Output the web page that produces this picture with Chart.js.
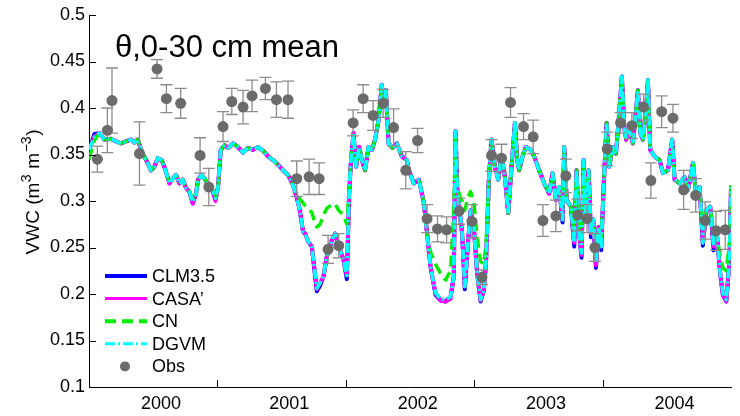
<!DOCTYPE html>
<html><head><meta charset="utf-8">
<script src="https://cdn.jsdelivr.net/npm/chart.js@4"></script>
<style>html,body{margin:0;padding:0;background:#fff;}canvas{display:block;}</style>
</head><body>
<canvas id="c" width="740" height="416"></canvas>
<script>
const dates = [
1999.440,1999.482,1999.521,1999.560,1999.611,1999.650,1999.689,1999.728,1999.767,1999.794,
1999.819,1999.858,1999.897,1999.923,1999.950,1999.975,2000.006,2000.032,2000.066,2000.092,
2000.118,2000.144,2000.170,2000.196,2000.222,2000.248,2000.274,2000.289,2000.316,2000.341,
2000.367,2000.394,2000.425,2000.445,2000.466,2000.497,2000.523,2000.562,2000.601,2000.640,
2000.679,2000.718,2000.757,2000.796,2000.835,2000.874,2000.913,2000.952,2000.990,2001.029,
2001.056,2001.082,2001.107,2001.123,2001.149,2001.175,2001.201,2001.214,2001.240,2001.266,
2001.292,2001.331,2001.357,2001.383,2001.422,2001.448,2001.466,2001.481,2001.500,2001.520,
2001.544,2001.565,2001.590,2001.617,2001.643,2001.668,2001.695,2001.720,2001.742,2001.752,
2001.773,2001.804,2001.837,2001.876,2001.915,2001.931,2001.970,2002.009,2002.048,2002.073,
2002.100,2002.139,2002.178,2002.217,2002.256,2002.281,2002.295,2002.307,2002.326,2002.346,
2002.367,2002.393,2002.412,2002.437,2002.463,2002.490,2002.515,2002.533,2002.554,2002.575,
2002.601,2002.627,2002.653,2002.679,2002.705,2002.731,2002.757,2002.775,2002.790,2002.817,
2002.842,2002.881,2002.907,2002.946,2002.985,2003.024,2003.050,2003.076,2003.102,2003.128,
2003.141,2003.160,2003.193,2003.219,2003.237,2003.258,2003.276,2003.292,2003.310,2003.331,
2003.349,2003.367,2003.388,2003.409,2003.429,2003.448,2003.471,2003.491,2003.518,2003.544,
2003.569,2003.590,2003.608,2003.624,2003.650,2003.676,2003.715,2003.733,2003.754,2003.780,
2003.793,2003.811,2003.845,2003.884,2003.910,2003.949,2003.982,2004.001,2004.040,2004.079,
2004.105,2004.144,2004.169,2004.196,2004.221,2004.247,2004.278,2004.305,2004.331,2004.356,
2004.377,2004.403,2004.429,2004.440];

const clm35 = [
0.355,0.372,0.373,0.366,0.367,0.364,0.362,0.364,0.366,0.363,
0.366,0.351,0.341,0.333,0.337,0.346,0.344,0.335,0.319,0.324,
0.328,0.319,0.323,0.314,0.310,0.298,0.308,0.323,0.328,0.324,
0.317,0.314,0.303,0.315,0.355,0.360,0.357,0.362,0.358,0.352,
0.357,0.355,0.358,0.354,0.348,0.344,0.339,0.333,0.328,0.317,
0.305,0.290,0.267,0.265,0.256,0.251,0.219,0.203,0.209,0.219,
0.240,0.258,0.265,0.251,0.237,0.216,0.308,0.344,0.373,0.337,
0.358,0.344,0.333,0.358,0.355,0.366,0.387,0.425,0.401,0.419,
0.362,0.357,0.362,0.348,0.344,0.333,0.319,0.323,0.298,0.265,
0.229,0.199,0.193,0.192,0.197,0.219,0.375,0.315,0.290,0.265,
0.205,0.258,0.290,0.272,0.222,0.192,0.204,0.237,0.323,0.366,
0.337,0.323,0.348,0.326,0.287,0.337,0.384,0.344,0.333,0.348,
0.358,0.355,0.348,0.333,0.319,0.308,0.330,0.301,0.315,0.277,
0.358,0.301,0.294,0.251,0.333,0.265,0.239,0.344,0.283,0.333,
0.261,0.280,0.228,0.272,0.247,0.315,0.384,0.337,0.358,0.351,
0.394,0.434,0.380,0.366,0.376,0.362,0.419,0.373,0.366,0.401,
0.430,0.355,0.348,0.344,0.330,0.333,0.366,0.323,0.319,0.326,
0.312,0.341,0.305,0.315,0.252,0.290,0.294,0.247,0.262,0.222,
0.199,0.192,0.237,0.315];

const casa = [
0.355,0.369,0.373,0.366,0.367,0.364,0.362,0.364,0.366,0.363,
0.366,0.351,0.341,0.333,0.337,0.346,0.344,0.335,0.319,0.324,
0.328,0.319,0.323,0.314,0.310,0.297,0.308,0.323,0.328,0.324,
0.317,0.314,0.300,0.315,0.355,0.360,0.357,0.362,0.358,0.352,
0.357,0.355,0.358,0.354,0.348,0.344,0.339,0.333,0.328,0.317,
0.305,0.290,0.267,0.265,0.256,0.251,0.222,0.205,0.212,0.219,
0.240,0.258,0.265,0.251,0.237,0.220,0.308,0.344,0.373,0.337,
0.358,0.344,0.333,0.358,0.355,0.366,0.387,0.425,0.401,0.419,
0.362,0.357,0.362,0.348,0.344,0.333,0.319,0.323,0.298,0.265,
0.229,0.201,0.193,0.192,0.195,0.219,0.375,0.315,0.290,0.265,
0.208,0.258,0.290,0.272,0.222,0.193,0.204,0.237,0.323,0.366,
0.337,0.323,0.348,0.326,0.287,0.337,0.384,0.344,0.333,0.348,
0.358,0.355,0.348,0.333,0.319,0.308,0.330,0.301,0.315,0.280,
0.358,0.301,0.294,0.255,0.333,0.265,0.242,0.344,0.283,0.333,
0.265,0.280,0.231,0.272,0.251,0.315,0.384,0.337,0.358,0.351,
0.394,0.434,0.380,0.366,0.376,0.362,0.419,0.373,0.366,0.401,
0.430,0.355,0.348,0.344,0.330,0.333,0.366,0.323,0.319,0.326,
0.312,0.341,0.305,0.315,0.255,0.290,0.294,0.251,0.262,0.222,
0.199,0.192,0.237,0.315];

const cn = [
0.345,0.365,0.373,0.366,0.367,0.364,0.362,0.364,0.366,0.363,
0.366,0.351,0.341,0.333,0.337,0.346,0.344,0.335,0.319,0.324,
0.328,0.319,0.323,0.314,0.310,0.303,0.308,0.323,0.328,0.324,
0.317,0.314,0.306,0.315,0.355,0.360,0.357,0.362,0.358,0.352,
0.357,0.355,0.358,0.354,0.348,0.344,0.339,0.333,0.328,0.317,
0.308,0.302,0.298,0.295,0.291,0.288,0.276,0.272,0.275,0.285,
0.292,0.296,0.297,0.290,0.285,0.275,0.310,0.344,0.373,0.337,
0.358,0.344,0.333,0.358,0.355,0.366,0.387,0.425,0.401,0.419,
0.362,0.357,0.362,0.348,0.344,0.333,0.319,0.323,0.298,0.262,
0.245,0.232,0.222,0.215,0.225,0.290,0.370,0.320,0.305,0.300,
0.290,0.305,0.310,0.300,0.260,0.235,0.232,0.255,0.323,0.366,
0.337,0.323,0.348,0.326,0.287,0.337,0.384,0.344,0.333,0.348,
0.358,0.355,0.348,0.333,0.319,0.308,0.330,0.301,0.315,0.290,
0.358,0.301,0.294,0.268,0.333,0.275,0.258,0.344,0.292,0.333,
0.275,0.280,0.245,0.272,0.262,0.315,0.384,0.337,0.358,0.351,
0.394,0.434,0.380,0.366,0.376,0.362,0.419,0.373,0.366,0.401,
0.430,0.355,0.348,0.344,0.330,0.333,0.366,0.323,0.319,0.326,
0.312,0.341,0.305,0.315,0.270,0.290,0.294,0.265,0.262,0.240,
0.228,0.225,0.255,0.320];

const dgvm = [
0.355,0.369,0.373,0.366,0.367,0.364,0.362,0.364,0.366,0.363,
0.366,0.351,0.341,0.333,0.337,0.346,0.344,0.335,0.319,0.324,
0.328,0.319,0.323,0.314,0.310,0.299,0.308,0.323,0.328,0.324,
0.317,0.314,0.303,0.315,0.355,0.360,0.357,0.362,0.358,0.352,
0.357,0.355,0.358,0.354,0.348,0.344,0.339,0.333,0.328,0.317,
0.305,0.290,0.267,0.265,0.256,0.251,0.222,0.206,0.212,0.219,
0.240,0.258,0.265,0.251,0.237,0.220,0.308,0.344,0.373,0.337,
0.358,0.344,0.333,0.358,0.355,0.366,0.387,0.425,0.401,0.419,
0.362,0.357,0.362,0.348,0.344,0.333,0.319,0.323,0.298,0.265,
0.229,0.201,0.195,0.194,0.197,0.219,0.375,0.315,0.290,0.265,
0.208,0.258,0.290,0.272,0.222,0.194,0.204,0.237,0.323,0.366,
0.337,0.323,0.348,0.326,0.287,0.337,0.384,0.344,0.333,0.348,
0.358,0.355,0.348,0.333,0.319,0.308,0.330,0.301,0.315,0.280,
0.358,0.301,0.294,0.255,0.333,0.265,0.244,0.344,0.283,0.333,
0.265,0.280,0.233,0.272,0.251,0.315,0.384,0.337,0.358,0.351,
0.394,0.434,0.380,0.366,0.376,0.362,0.419,0.373,0.366,0.401,
0.430,0.355,0.348,0.344,0.330,0.333,0.366,0.323,0.319,0.326,
0.312,0.341,0.305,0.315,0.255,0.290,0.294,0.251,0.262,0.222,
0.201,0.194,0.237,0.315];

const obsDates = [1999.505,1999.583,1999.619,1999.833,1999.970,2000.043,2000.154,2000.305,2000.373,2000.484,
2000.552,2000.640,2000.710,2000.814,2000.900,2000.990,2001.058,2001.154,2001.232,2001.302,
2001.385,2001.497,2001.575,2001.653,2001.731,2001.812,2001.907,2001.999,2002.073,2002.154,
2002.225,2002.323,2002.422,2002.500,2002.575,2002.653,2002.723,2002.824,2002.899,2002.975,
2003.076,2003.154,2003.245,2003.318,2003.380,2003.476,2003.580,2003.668,2003.759,2003.816,
2003.900,2003.988,2004.071,2004.165,2004.239,2004.323,2004.395];
const obsVals = [0.345,0.376,0.408,0.351,0.442,0.410,0.405,0.349,0.315,0.380,
0.407,0.401,0.413,0.421,0.409,0.409,0.324,0.326,0.324,0.248,
0.252,0.384,0.410,0.392,0.405,0.379,0.333,0.365,0.281,0.270,
0.269,0.289,0.278,0.218,0.349,0.346,0.406,0.380,0.369,0.279,
0.284,0.327,0.285,0.281,0.250,0.356,0.384,0.381,0.401,0.322,
0.396,0.389,0.312,0.306,0.279,0.268,0.269];
const obsErr = [0.014,0.024,0.035,0.034,0.010,0.015,0.016,0.019,0.020,0.016,
0.014,0.018,0.017,0.012,0.019,0.020,0.019,0.019,0.017,0.015,
0.013,0.014,0.015,0.016,0.015,0.020,0.020,0.013,0.015,0.014,
0.014,0.014,0.018,0.008,0.017,0.015,0.016,0.014,0.018,0.017,
0.017,0.018,0.017,0.015,0.015,0.018,0.011,0.014,0.014,0.019,
0.017,0.015,0.021,0.018,0.020,0.021,0.021];

const yearLabels = [2000, 2001, 2002, 2003, 2004];
const yearBoundaries = [2000.44, 2001.44, 2002.44, 2003.44];
const xMin = 1999.44, xMax = 2004.44;
const titleText = 'θ,0-30 cm mean';
// y-axis title pieces: [text, isSuperscript]
const yTitleParts = [['VWC (m', false], ['3', true], [' m', false], ['\u22123', true], [')', false]];

const FONT = "'Liberation Sans', Arial, Helvetica, sans-serif";
const pts = arr => dates.map((d, i) => ({x: d, y: arr[i]}));

const errorBars = {
  id: 'errorBars',
  beforeDatasetDraw(chart, args) {
    if (args.index !== 4) return;
    const {ctx, scales: {x, y}} = chart;
    ctx.save();
    ctx.strokeStyle = '#8c8c8c';
    ctx.lineWidth = 1.3;
    obsDates.forEach((d, i) => {
      const px = x.getPixelForValue(d);
      const y1 = y.getPixelForValue(obsVals[i] + obsErr[i]);
      const y2 = y.getPixelForValue(obsVals[i] - obsErr[i]);
      ctx.beginPath();
      ctx.moveTo(px, y1); ctx.lineTo(px, y2);
      ctx.moveTo(px - 6, y1); ctx.lineTo(px + 6, y1);
      ctx.moveTo(px - 6, y2); ctx.lineTo(px + 6, y2);
      ctx.stroke();
    });
    ctx.restore();
  }
};

const decor = {
  id: 'decor',
  afterDraw(chart) {
    const {ctx, chartArea: a, scales: {x, y}} = chart;
    ctx.save();
    // inward tick marks
    ctx.strokeStyle = '#000';
    ctx.lineWidth = 1;
    ctx.beginPath();
    yearBoundaries.forEach(v => {
      const px = Math.round(x.getPixelForValue(v)) + 0.5;
      ctx.moveTo(px, a.bottom); ctx.lineTo(px, a.bottom - 7);
    });
    y.ticks.forEach(t => {
      const py = Math.round(y.getPixelForValue(t.value)) + 0.5;
      ctx.moveTo(a.left, py); ctx.lineTo(a.left + 7, py);
    });
    ctx.stroke();
    // title
    ctx.fillStyle = '#000';
    ctx.font = '31px ' + FONT;
    ctx.textBaseline = 'alphabetic';
    ctx.textAlign = 'left';
    ctx.fillText(titleText, a.left + 26, a.top + 42);
    // y-axis title with superscripts, rotated
    const mainF = '19px ' + FONT, supF = '14px ' + FONT;
    let total = 0;
    yTitleParts.forEach(([t, sup]) => { ctx.font = sup ? supF : mainF; total += ctx.measureText(t).width + (sup ? 1 : 0); });
    ctx.save();
    ctx.translate(39, 192);
    ctx.rotate(-Math.PI / 2);
    let cx = -total / 2;
    yTitleParts.forEach(([t, sup]) => {
      ctx.font = sup ? supF : mainF;
      ctx.fillText(t, cx + (sup ? 0.5 : 0), sup ? -8 : 0);
      cx += ctx.measureText(t).width + (sup ? 1 : 0);
    });
    ctx.restore();
    // legend
    const ds = chart.data.datasets;
    ctx.font = '18px ' + FONT;
    ctx.textBaseline = 'middle';
    ds.forEach((d, i) => {
      const ry = a.top + 261 + i * 22.6;
      const x0 = a.left + 16, x1 = a.left + 58;
      if (d.showLine === false) {
        ctx.fillStyle = d.backgroundColor;
        ctx.beginPath();
        ctx.arc((x0 + x1) / 2 - 1, ry, 5, 0, Math.PI * 2);
        ctx.fill();
      } else {
        ctx.strokeStyle = d.borderColor;
        ctx.lineWidth = d.legendWidth;
        ctx.setLineDash(d.borderDash || []);
        ctx.beginPath();
        ctx.moveTo(x0, ry); ctx.lineTo(x1, ry);
        ctx.stroke();
        ctx.setLineDash([]);
      }
      ctx.fillStyle = '#000';
      ctx.fillText(d.label, a.left + 63, ry + 1);
    });
    ctx.restore();
  }
};

new Chart(document.getElementById('c'), {
  type: 'line',
  data: {
    datasets: [
      {label: 'CLM3.5', data: pts(clm35), borderColor: '#0000ff', borderWidth: 4, legendWidth: 4, order: 4},
      {label: 'CASA\u2019', data: pts(casa), borderColor: '#ff00ff', borderWidth: 4, legendWidth: 3, order: 3},
      {label: 'CN', data: pts(cn), borderColor: '#00ee00', borderWidth: 3.5, borderDash: [11, 6], legendWidth: 4, order: 2},
      {label: 'DGVM', data: pts(dgvm), borderColor: '#00ffff', borderWidth: 3.6, borderDash: [10, 3, 2, 3], legendWidth: 3, order: 1},
      {label: 'Obs', type: 'scatter', showLine: false, data: obsDates.map((d, i) => ({x: d, y: obsVals[i]})),
       backgroundColor: '#6b6b6b', borderColor: '#6b6b6b', pointRadius: 5.5, borderWidth: 0, order: 0}
    ]
  },
  options: {
    responsive: false,
    animation: false,
    devicePixelRatio: 1,
    elements: {line: {tension: 0, borderJoinStyle: 'round', fill: false}, point: {radius: 0, hoverRadius: 0}},
    layout: {padding: {top: 15, right: 9, left: 0, bottom: 0}},
    plugins: {legend: {display: false}, tooltip: {enabled: false}, title: {display: false}},
    scales: {
      x: {
        type: 'linear', min: xMin, max: xMax,
        afterBuildTicks: s => { s.ticks = yearLabels.map(v => ({value: v})); },
        afterFit: s => { s.height = 29; },
        grid: {display: false, drawTicks: false},
        border: {display: true, color: '#000', width: 1},
        ticks: {callback: v => String(v), font: {size: 18, family: FONT}, color: '#000', padding: 6, maxRotation: 0, autoSkip: false}
      },
      y: {
        type: 'linear', min: 0.1, max: 0.5,
        afterFit: s => { s.width = 89; },
        grid: {display: false, drawTicks: false},
        border: {display: true, color: '#000', width: 1},
        ticks: {stepSize: 0.05, callback: v => String(+v.toFixed(2)), font: {size: 18, family: FONT}, color: '#000', padding: 4}
      }
    }
  },
  plugins: [errorBars, decor]
});
</script>
</body></html>
